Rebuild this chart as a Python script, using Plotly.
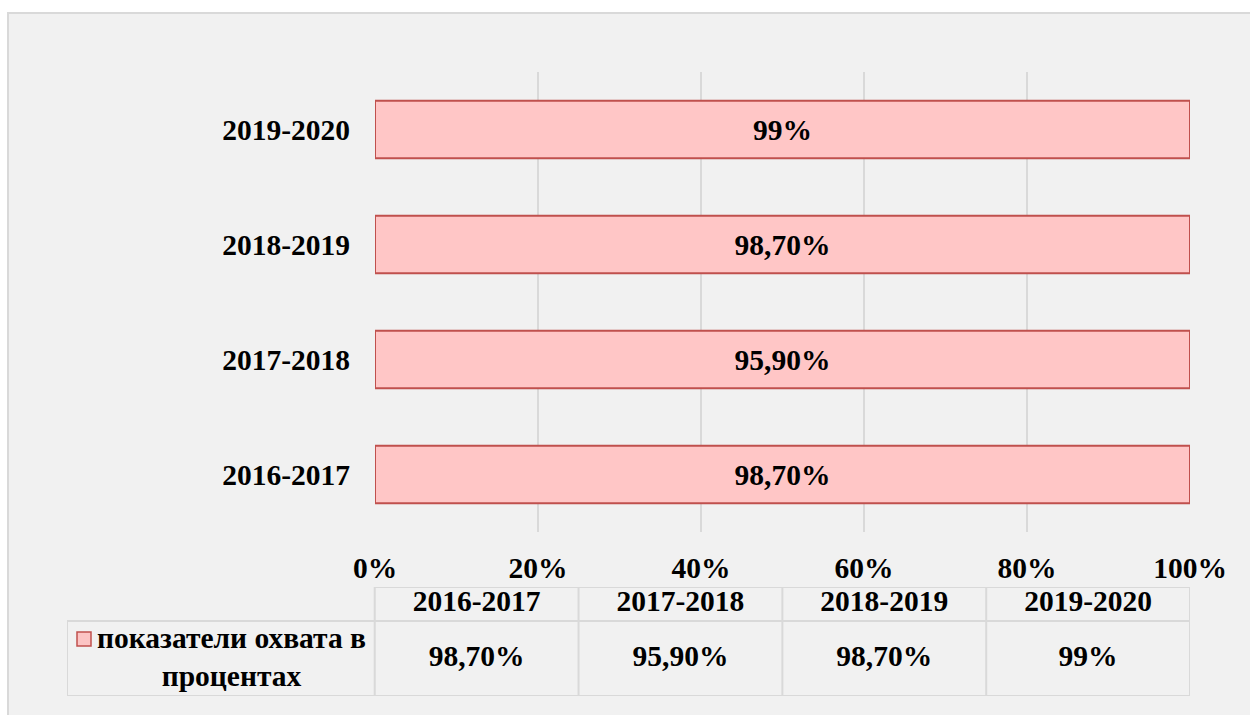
import numpy as np
import plotly.graph_objects as go

# ---- data ----
categories = ["2016-2017", "2017-2018", "2018-2019", "2019-2020"]
values = [98.7, 95.9, 98.7, 99.0]
value_labels = ["98,70%", "95,90%", "98,70%", "99%"]
series_name = "показатели охвата в<br>процентах"
x_ticks = [0, 20, 40, 60, 80, 100]
x_tick_labels = ["0%", "20%", "40%", "60%", "80%", "100%"]

W, H = 1250, 715
def fx(px):
    return px / W
def fy(py):
    return 1 - py / H

FONT = "Liberation Serif"
FS = 29.5
BAR_FILL = "#ffc6c6"
BAR_LINE = "#c0504d"
GRID = "#d9d9d9"
BG = "#f1f1f1"

fig = go.Figure()

# main bar chart (100% stacked, single series)
fig.add_trace(go.Bar(
    y=categories, x=values, orientation="h",
    marker=dict(color=BAR_FILL, line=dict(color=BAR_LINE, width=2)),
    text=value_labels, textposition="inside", insidetextanchor="middle",
    textangle=0, constraintext="none",
    textfont=dict(family=FONT, size=FS, color="black", weight="bold"),
    hoverinfo="skip", showlegend=False, xaxis="x", yaxis="y",
))

# data table: text placed through a second pair of axes (column units)
col_x = np.arange(len(categories)) + 0.5
fig.add_trace(go.Scatter(
    x=col_x, y=[92] * len(categories), text=categories, mode="text",
    textfont=dict(family=FONT, size=FS, color="black", weight="bold"),
    hoverinfo="skip", showlegend=False, xaxis="x2", yaxis="y2", cliponaxis=False,
))
fig.add_trace(go.Scatter(
    x=col_x, y=[37.5] * len(categories), text=value_labels, mode="text",
    textfont=dict(family=FONT, size=FS, color="black", weight="bold"),
    hoverinfo="skip", showlegend=False, xaxis="x2", yaxis="y2", cliponaxis=False,
))

left_col = -308 / 204
shapes = [
    # outer chart area
    dict(type="rect", xref="paper", yref="paper", x0=fx(8), x1=1.05, y0=-0.05, y1=fy(13),
         fillcolor=BG, line=dict(color="#d9d9d9", width=2), layer="below"),
]
tl = dict(color=GRID, width=2)
for k in range(len(categories) + 1):
    shapes.append(dict(type="line", xref="x2", yref="y2", x0=k, x1=k, y0=0, y1=109, line=tl))
shapes += [
    dict(type="line", xref="x2", yref="y2", x0=left_col, x1=left_col, y0=0, y1=75, line=tl),
    dict(type="line", xref="x2", yref="y2", x0=left_col, x1=len(categories), y0=0, y1=0, line=tl),
    dict(type="line", xref="x2", yref="y2", x0=left_col, x1=len(categories), y0=75, y1=75, line=tl),
    dict(type="line", xref="x2", yref="y2", x0=0, x1=len(categories), y0=109, y1=109, line=tl),
    # legend key
    dict(type="rect", xref="paper", yref="paper", x0=fx(77), x1=fx(91), y0=fy(646), y1=fy(632),
         fillcolor="#fcc4c4", line=dict(color=BAR_LINE, width=1.5)),
]

fig.add_annotation(
    xref="x2", yref="y2", x=(left_col + 22 / 204) / 2, y=39,
    text=series_name, showarrow=False, align="center",
    font=dict(family=FONT, size=FS, color="black", weight="bold"),
)

fig.update_layout(
    width=W, height=H, autosize=False,
    margin=dict(l=0, r=0, t=0, b=0, autoexpand=False),
    paper_bgcolor="white", plot_bgcolor="rgba(0,0,0,0)",
    barmode="stack", barnorm="percent", bargap=0.5,
    shapes=shapes,
    xaxis=dict(domain=[fx(375), fx(1190)], range=[0, 100], tickvals=x_ticks,
               ticktext=x_tick_labels, showgrid=True, gridcolor=GRID, gridwidth=2,
               zeroline=False, showline=False, ticks="", ticklabelstandoff=15,
               automargin=False,
               tickfont=dict(family=FONT, size=FS, color="black", weight="bold"),
               fixedrange=True),
    yaxis=dict(domain=[fy(532), fy(72)], type="category", categoryorder="array",
               categoryarray=categories, showgrid=False, zeroline=False, showline=False,
               ticks="", ticklabelstandoff=24, automargin=False,
               tickfont=dict(family=FONT, size=FS, color="black", weight="bold"),
               fixedrange=True),
    xaxis2=dict(domain=[fx(67), fx(1190)], range=[left_col, len(categories)], visible=False,
                anchor="y2", fixedrange=True, automargin=False),
    yaxis2=dict(domain=[fy(696), fy(587)], range=[0, 109], visible=False,
                anchor="x2", fixedrange=True, automargin=False),
)

fig.write_html(
    "out.html",
    config={"displayModeBar": False},
    post_script="document.body.style.margin='0';document.body.style.overflow='hidden';",
)
